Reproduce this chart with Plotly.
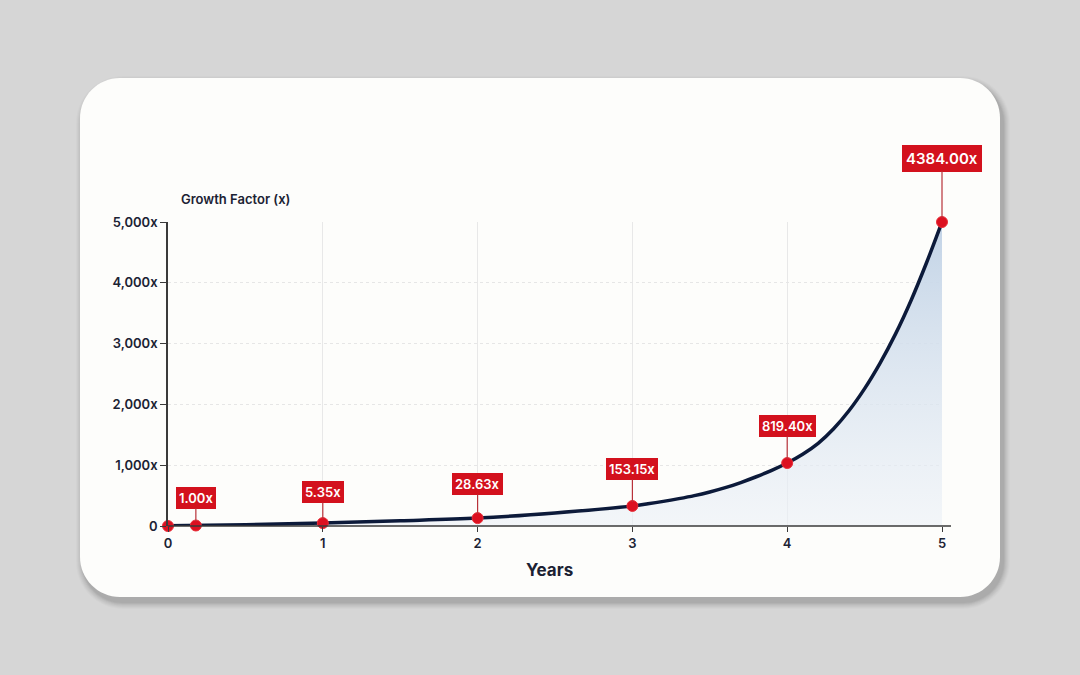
import plotly.graph_objects as go

# ---- data ----
curve_years = [0, 0.5, 1, 1.5, 2, 2.5, 3.0, 3.1, 3.2, 3.3, 3.4, 3.5, 3.6, 3.7, 3.8, 3.9,
               4.0, 4.1, 4.2, 4.3, 4.4, 4.5, 4.6, 4.7, 4.8, 4.9, 5.0]
curve_values = [4, 20, 48, 85, 130, 215, 330, 365, 405, 450, 500, 560, 630, 715, 810, 915,
                1036, 1180, 1360, 1600, 1900, 2260, 2680, 3160, 3710, 4330, 5000]

point_years = [0, 0.18, 1, 2, 3, 4, 5]
point_values = [0, 8, 48, 130, 330, 1036, 5000]

label_years = [0.18, 1, 2, 3, 4, 5]
label_values = [8, 48, 130, 330, 1036, 5000]
label_texts = ["1.00x", "5.35x", "28.63x", "153.15x", "819.40x", "4384.00x"]
label_offsets = [-28, -31, -34, -37, -37, -64]

y_tickvals = [0, 1000, 2000, 3000, 4000, 5000]
y_ticktext = ["0", "1,000x", "2,000x", "3,000x", "4,000x", "5,000x"]
x_tickvals = [0, 1, 2, 3, 4, 5]

# ---- layout geometry (pixels) ----
W, H = 1080, 675
L, R, T, B = 168, 942, 222, 526
PW, PH = R - L, B - T

def px(xp):
    return (xp - L) / PW

def py(yp):
    return (B - yp) / PH

def rounded_path(x0, y0, x1, y1, r):
    k = 0.5523 * r
    def P(x, y):
        return f"{px(x):.5f},{py(y):.5f}"
    d = f"M {P(x0 + r, y0)} L {P(x1 - r, y0)} "
    d += f"C {P(x1 - r + k, y0)} {P(x1, y0 + r - k)} {P(x1, y0 + r)} "
    d += f"L {P(x1, y1 - r)} "
    d += f"C {P(x1, y1 - r + k)} {P(x1 - r + k, y1)} {P(x1 - r, y1)} "
    d += f"L {P(x0 + r, y1)} "
    d += f"C {P(x0 + r - k, y1)} {P(x0, y1 - r + k)} {P(x0, y1 - r)} "
    d += f"L {P(x0, y0 + r)} "
    d += f"C {P(x0, y0 + r - k)} {P(x0 + r - k, y0)} {P(x0 + r, y0)} Z"
    return d

shapes = []
# soft shadow layers
for i, a in enumerate([0.045, 0.04, 0.035, 0.03, 0.025, 0.02, 0.015]):
    g = i + 1
    shapes.append(dict(type="path", xref="paper", yref="paper", layer="below",
                       path=rounded_path(80 - g + 3, 78 - g + 5, 1000 + g + 3, 597 + g + 5, 40 + g),
                       fillcolor=f"rgba(0,0,0,{a})", line=dict(width=0)))
# card
shapes.append(dict(type="path", xref="paper", yref="paper", layer="below",
                   path=rounded_path(80, 78, 1000, 597, 40),
                   fillcolor="#fdfdfb", line=dict(width=0)))
# x axis line (extends a little past 5)
shapes.append(dict(type="line", xref="paper", yref="paper", layer="above",
                   x0=0, x1=px(951), y0=0, y1=0, line=dict(color="#3a3a3a", width=1.6)))

fig = go.Figure()

fig.add_trace(go.Scatter(
    x=curve_years, y=curve_values, mode="lines",
    line=dict(color="#0c1a3a", width=3.5, shape="spline", smoothing=1.0),
    fill="tozeroy",
    fillgradient=dict(type="vertical",
                      colorscale=[[0, "rgba(236,241,247,0.6)"], [1, "#c2d3e6"]],
                      start=0, stop=5000),
    hoverinfo="skip", showlegend=False, cliponaxis=False,
))

fig.add_trace(go.Scatter(
    x=point_years, y=point_values, mode="markers",
    marker=dict(color="#dc1020", size=11, line=dict(color="#e8303a", width=1)),
    showlegend=False, cliponaxis=False,
))

annotations = []
for xv, yv, t, off in zip(label_years, label_values, label_texts, label_offsets):
    big = t == "4384.00x"
    annotations.append(dict(
        x=xv, y=yv, xref="x", yref="y", text=t,
        showarrow=True, arrowhead=0, arrowwidth=1.2, arrowcolor="#b8323a",
        ax=0, ay=off, standoff=4,
        bgcolor="#d3111d", bordercolor="#d3111d", borderpad=3 if big else 2,
        font=dict(family="Inter, Noto Sans, sans-serif", size=15 if big else 13,
                  color="white", weight=600),
    ))

annotations.append(dict(
    x=px(179), y=py(199), xref="paper", yref="paper", xanchor="left", yanchor="middle",
    text="Growth Factor (x)", showarrow=False,
    font=dict(family="Inter, Noto Sans, sans-serif", size=13, color="#1b2233", weight=600),
))
annotations.append(dict(
    x=px(549), y=py(570), xref="paper", yref="paper", xanchor="center", yanchor="middle",
    text="Years", showarrow=False,
    font=dict(family="Inter, Noto Sans, sans-serif", size=17, color="#1b2233", weight=700),
))

tickfont = dict(family="Inter, Noto Sans, sans-serif", size=13, color="#1b2233", weight=600)

fig.update_layout(
    width=W, height=H,
    margin=dict(l=L, r=W - R, t=T, b=H - B),
    paper_bgcolor="#d6d6d6",
    plot_bgcolor="rgba(0,0,0,0)",
    shapes=shapes,
    annotations=annotations,
    showlegend=False,
    xaxis=dict(range=[0, 5], tickvals=x_tickvals, ticks="outside", ticklen=5,
               tickcolor="#3a3a3a", tickfont=tickfont, showline=False,
               showgrid=True, gridcolor="#e8e8e8", zeroline=False,
               fixedrange=True),
    yaxis=dict(range=[0, 5000], tickvals=y_tickvals, ticktext=y_ticktext,
               ticks="outside", ticklen=6, tickcolor="#3a3a3a", tickfont=tickfont,
               showline=True, linecolor="#3a3a3a", linewidth=1.6,
               showgrid=True, gridcolor="#e6e6e6", griddash="dot", zeroline=False,
               fixedrange=True),
)

fig.write_html("out.html")
